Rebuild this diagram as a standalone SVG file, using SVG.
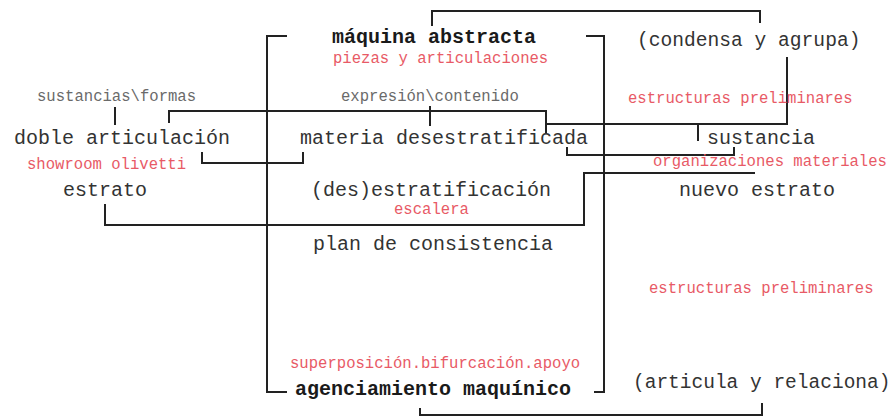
<svg xmlns="http://www.w3.org/2000/svg" width="893" height="416" viewBox="0 0 893 416">
<style>
text{font-family:"Liberation Mono","Courier New",monospace;}
.m{font-size:20px;fill:#333;}
.b{font-size:20px;font-weight:bold;fill:#1a1a1a;}
.r{font-size:15.6px;fill:#e85a66;}
.g{font-size:15.6px;fill:#6a6a6a;}
.c path{fill:none;stroke:#222;stroke-width:2;}
</style>
<rect width="893" height="416" fill="#fff"/>
<g class="c" id="connectors">
<path d="M432,26 V11 H760 V23"/>
<path d="M287,36 H267 V392 H287"/>
<path d="M586,36 H604 V392 H594"/>
<path d="M115,107 V125"/>
<path d="M169,123 V111 H546 V133"/>
<path d="M430,106 V126"/>
<path d="M546,124 H787 V57"/>
<path d="M698,124 V141"/>
<path d="M202,152 V163 H303 V152"/>
<path d="M567,147 V155 H734 V147"/>
<path d="M105,204 V225 H584 V173 H755"/>
<path d="M420,408 V415 H762 V403"/>
</g>
<g id="maquina-abstracta"><text class="b" x="332" y="43">máquina abstracta</text></g>
<g id="piezas"><text class="r" x="333" y="63">piezas y articulaciones</text></g>
<g id="sustancias-formas"><text class="g" x="37" y="101">sustancias\formas</text></g>
<g id="expresion-contenido"><text class="g" x="341" y="101">expresión\contenido</text></g>
<g id="doble-articulacion"><text class="m" x="14" y="144">doble articulación</text></g>
<g id="materia"><text class="m" x="300" y="144">materia desestratificada</text></g>
<g id="showroom"><text class="r" x="27" y="169">showroom olivetti</text></g>
<g id="estrato"><text class="m" x="63" y="196">estrato</text></g>
<g id="desestratificacion"><text class="m" x="311" y="196">(des)estratificación</text></g>
<g id="escalera"><text class="r" x="394" y="214">escalera</text></g>
<g id="plan"><text class="m" x="313" y="250">plan de consistencia</text></g>
<g id="superposicion"><text class="r" x="290" y="368">superposición.bifurcación.apoyo</text></g>
<g id="agenciamiento"><text class="b" x="295" y="395">agenciamiento maquínico</text></g>
<g id="condensa"><text class="m" x="637" y="46" style="font-size:19.6px">(condensa y agrupa)</text></g>
<g id="estructuras1"><text class="r" x="628" y="103">estructuras preliminares</text></g>
<g id="sustancia"><text class="m" x="707" y="144">sustancia</text></g>
<g id="organizaciones"><text class="r" x="653" y="166">organizaciones materiales</text></g>
<g id="nuevo-estrato"><text class="m" x="679" y="196">nuevo estrato</text></g>
<g id="estructuras2"><text class="r" x="649" y="293">estructuras preliminares</text></g>
<g id="articula"><text class="m" x="633" y="388" style="font-size:19.5px">(articula y relaciona)</text></g>
</svg>
